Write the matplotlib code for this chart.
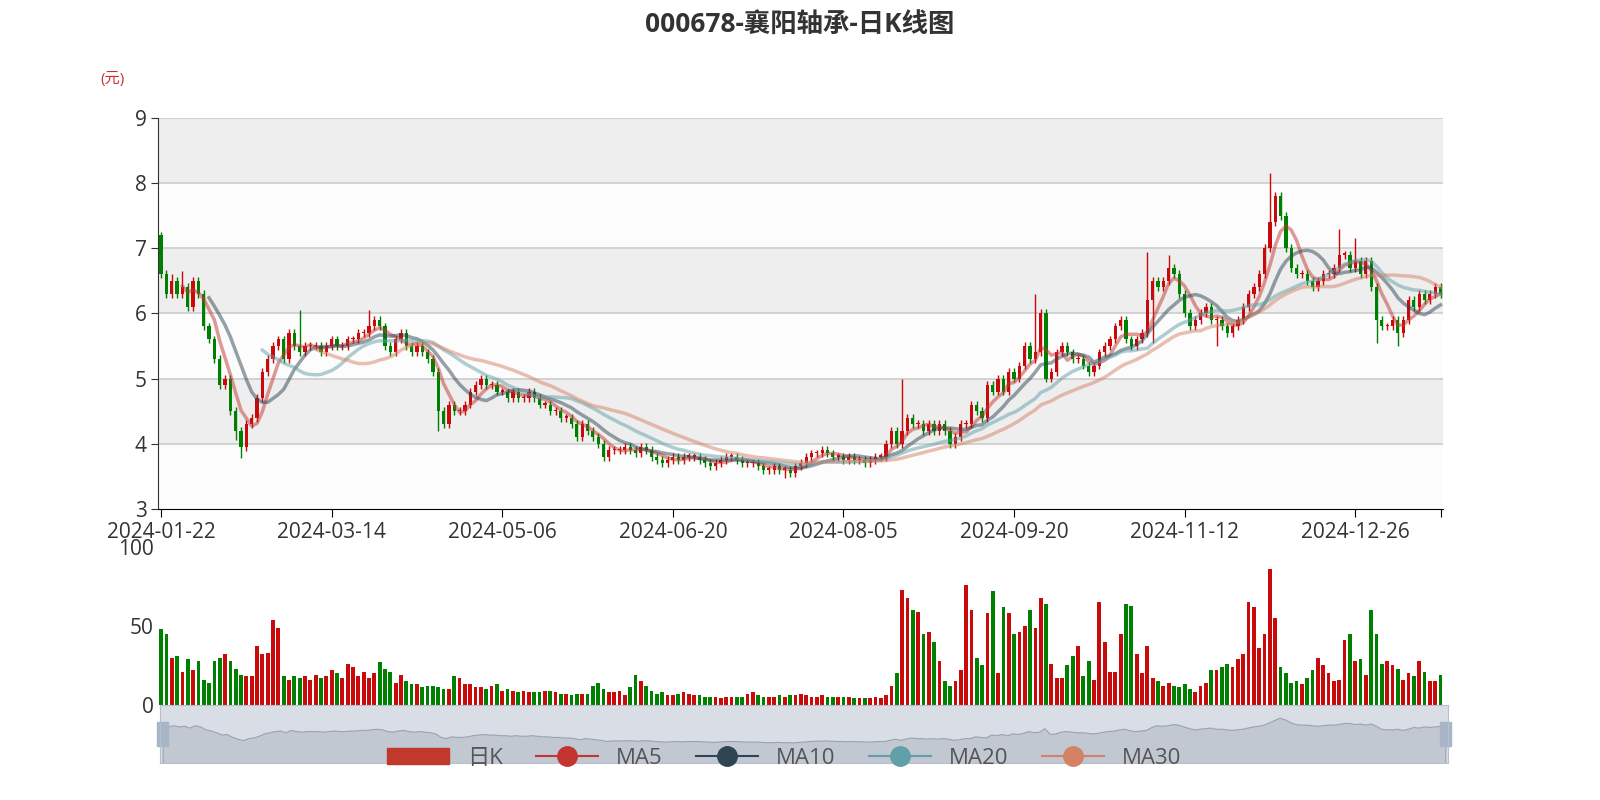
import matplotlib

matplotlib.use("Agg")

import matplotlib.pyplot as plt
import numpy as np
import pandas as pd
from matplotlib.lines import Line2D
from matplotlib.patches import Patch

plt.rcParams["font.family"] = ["Open Sans", "Noto Sans CJK SC", "DejaVu Sans"]

closes = [
    6.6, 6.3, 6.5, 6.3, 6.4, 6.1, 6.5, 6.3, 5.8, 5.6, 5.3,
    4.9, 5.0, 4.5, 4.2, 3.95, 4.3, 4.4, 4.7, 5.1, 5.3,
    5.5, 5.6, 5.3, 5.7, 5.5, 5.4, 5.5, 5.5, 5.5, 5.4,
    5.5, 5.6, 5.5, 5.5, 5.6, 5.6, 5.7, 5.7, 5.8, 5.9,
    5.8, 5.5, 5.4, 5.6, 5.7, 5.5, 5.4, 5.5, 5.4, 5.3,
    5.1, 4.5, 4.3, 4.6, 4.5, 4.5, 4.6, 4.8, 4.9, 5.0,
    4.9, 4.9, 4.8, 4.8, 4.7, 4.8, 4.7, 4.7, 4.8, 4.7,
    4.6, 4.6, 4.5, 4.5, 4.4, 4.4, 4.3, 4.1, 4.3, 4.2,
    4.1, 4.0, 3.8, 3.9, 3.9, 3.9, 3.95, 3.9, 3.85, 3.95,
    3.9, 3.8, 3.75, 3.7, 3.75, 3.8, 3.75, 3.8, 3.8, 3.8,
    3.75, 3.7, 3.65, 3.7, 3.75, 3.8, 3.8, 3.75, 3.7, 3.7,
    3.7, 3.65, 3.6, 3.6, 3.65, 3.6, 3.6, 3.55, 3.65, 3.7,
    3.8, 3.85, 3.85, 3.9, 3.85, 3.8, 3.8, 3.75, 3.8, 3.75,
    3.75, 3.7, 3.75, 3.8, 3.8, 4.0, 4.2, 4.0, 4.2, 4.4,
    4.3, 4.3, 4.2, 4.3, 4.2, 4.3, 4.2, 4.0, 4.1, 4.3,
    4.3, 4.6, 4.5, 4.4, 4.9, 4.8, 5.0, 4.8, 5.1, 5.0,
    5.2, 5.5, 5.3, 5.4, 6.0, 5.0, 5.1, 5.4, 5.5, 5.4,
    5.3, 5.3, 5.2, 5.1, 5.2, 5.4, 5.5, 5.6, 5.8, 5.9,
    5.6, 5.5, 5.6, 5.7, 6.2, 6.5, 6.4, 6.5, 6.7, 6.6,
    6.3, 6.0, 5.8, 5.9, 6.0, 6.1, 5.9, 5.9, 5.8, 5.7,
    5.8, 5.9, 6.1, 6.3, 6.4, 6.6, 7.0, 7.4, 7.8, 7.5,
    7.0, 6.7, 6.6, 6.6, 6.5, 6.4, 6.5, 6.6, 6.6, 6.7,
    6.9, 6.9, 6.7, 6.8, 6.6, 6.8, 6.4, 5.9, 5.8, 5.8,
    5.9, 5.7, 5.9, 6.2, 6.1, 6.3, 6.2, 6.3, 6.4, 6.3,
]
opens = [
    7.2, 6.6, 6.3, 6.5, 6.3, 6.4, 6.1, 6.5, 6.3, 5.8, 5.6,
    5.3, 4.9, 5.0, 4.5, 4.2, 3.95, 4.3, 4.4, 4.7, 5.1,
    5.3, 5.5, 5.6, 5.3, 5.7, 5.5, 5.4, 5.5, 5.5, 5.5,
    5.4, 5.5, 5.6, 5.5, 5.5, 5.6, 5.6, 5.7, 5.7, 5.8,
    5.9, 5.8, 5.5, 5.4, 5.6, 5.7, 5.5, 5.4, 5.5, 5.4,
    5.3, 5.1, 4.5, 4.3, 4.6, 4.5, 4.5, 4.6, 4.8, 4.9,
    5.0, 4.9, 4.9, 4.8, 4.8, 4.7, 4.8, 4.7, 4.7, 4.8,
    4.7, 4.6, 4.6, 4.5, 4.5, 4.4, 4.4, 4.3, 4.1, 4.3,
    4.2, 4.1, 4.0, 3.8, 3.9, 3.9, 3.9, 3.95, 3.9, 3.85,
    3.95, 3.9, 3.8, 3.75, 3.7, 3.75, 3.8, 3.75, 3.8, 3.8,
    3.8, 3.75, 3.7, 3.65, 3.7, 3.75, 3.8, 3.8, 3.75, 3.7,
    3.7, 3.7, 3.65, 3.6, 3.6, 3.65, 3.6, 3.6, 3.55, 3.65,
    3.7, 3.8, 3.85, 3.85, 3.9, 3.85, 3.8, 3.8, 3.75, 3.8,
    3.75, 3.75, 3.7, 3.75, 3.8, 3.8, 4.0, 4.2, 4.0, 4.2,
    4.4, 4.3, 4.3, 4.2, 4.3, 4.2, 4.3, 4.2, 4.0, 4.1,
    4.3, 4.3, 4.6, 4.5, 4.4, 4.9, 4.8, 5.0, 4.8, 5.1,
    5.0, 5.2, 5.5, 5.3, 5.4, 6.0, 5.0, 5.1, 5.4, 5.5,
    5.4, 5.3, 5.3, 5.2, 5.1, 5.2, 5.4, 5.5, 5.6, 5.8,
    5.9, 5.6, 5.5, 5.6, 5.7, 6.2, 6.5, 6.4, 6.5, 6.7,
    6.6, 6.3, 6.0, 5.8, 5.9, 6.0, 6.1, 5.9, 5.9, 5.8,
    5.7, 5.8, 5.9, 6.1, 6.3, 6.4, 6.6, 7.0, 7.4, 7.8,
    7.5, 7.0, 6.7, 6.6, 6.6, 6.5, 6.4, 6.5, 6.6, 6.6,
    6.7, 6.9, 6.9, 6.7, 6.8, 6.6, 6.8, 6.4, 5.9, 5.8,
    5.8, 5.9, 5.7, 5.9, 6.2, 6.1, 6.3, 6.2, 6.3, 6.4,
]
volumes = [
    48, 45, 30, 31, 21, 29, 22, 28, 16, 14, 28,
    30, 32, 28, 23, 19, 18, 18, 37, 32, 33,
    54, 49, 18, 16, 18, 17, 18, 16, 19, 17,
    18, 22, 20, 17, 26, 24, 18, 21, 17, 20,
    27, 23, 21, 14, 19, 15, 13, 13, 11, 12,
    12, 11, 10, 10, 18, 17, 13, 13, 11, 11,
    10, 12, 13, 9, 10, 9, 8, 9, 8, 8,
    8, 9, 9, 8, 7, 7, 6, 7, 7, 7,
    12, 14, 10, 8, 8, 9, 6, 11, 19, 15,
    12, 9, 7, 8, 6, 6, 7, 8, 7, 6,
    6, 5, 5, 5, 4, 5, 5, 5, 5, 7,
    8, 6, 5, 5, 5, 6, 5, 6, 6, 7,
    6, 5, 5, 6, 5, 5, 5, 5, 5, 4,
    4, 4, 4, 5, 4, 6, 12, 20, 73, 68,
    60, 59, 45, 46, 40, 28, 15, 12, 15, 22,
    76, 60, 30, 25, 58, 72, 20, 62, 58, 45,
    46, 50, 60, 49, 68, 64, 26, 17, 17, 25,
    31, 37, 18, 28, 16, 65, 40, 21, 21, 45,
    64, 63, 32, 20, 37, 17, 15, 12, 14, 12,
    11, 13, 10, 8, 12, 14, 22, 22, 24, 26,
    24, 29, 32, 65, 62, 36, 45, 86, 55, 24,
    20, 14, 15, 13, 17, 22, 30, 25, 20, 15,
    16, 41, 45, 28, 29, 19, 60, 45, 26, 28,
    25, 23, 16, 20, 18, 28, 21, 15, 15, 19,
]
# notable shadows (index: price); other days get a short default wick
spike_highs = {0: 7.25, 2: 6.6, 4: 6.65, 26: 6.05, 39: 6.05, 139: 5.0, 164: 6.3,
               185: 6.95, 189: 6.9, 208: 8.15, 221: 7.3, 224: 7.15}
spike_lows = {15: 3.78, 14: 4.05, 52: 4.2, 117: 3.47, 186: 5.55, 198: 5.5, 228: 5.55, 232: 5.5}
tick_labels = ["2024-01-22", "2024-03-14", "2024-05-06", "2024-06-20",
               "2024-08-05", "2024-09-20", "2024-11-12", "2024-12-26"]
ma_windows = [5, 10, 20, 30]
ma_colors = ["#c23531", "#2f4554", "#61a0a8", "#d48265"]

RED = "#c80a0a"
GREEN = "#008000"
n = len(closes)
x = np.arange(n)
o = np.array(opens)
c = np.array(closes)
colors = [RED if cc >= oo else GREEN for oo, cc in zip(o, c)]

fig = plt.figure(figsize=(16, 8), dpi=100)
ax = fig.add_axes([0.099, 0.364, 0.803, 0.4885])
axv = fig.add_axes([0.099, 0.119, 0.803, 0.197], sharex=ax)
axs = fig.add_axes([0.100, 0.046, 0.805, 0.073])

# background bands
for k, lo in enumerate(range(8, 2, -1)):
    ax.axhspan(lo, lo + 1, color="#eeeeee" if k % 2 == 0 else "#fcfcfc", zorder=0)
for yy in range(4, 10):
    ax.axhline(yy, color="#cccccc", lw=1.2, zorder=1)

for i in range(n):
    top, bot = max(o[i], c[i]), min(o[i], c[i])
    hi = spike_highs.get(i, top + 0.06)
    lo = spike_lows.get(i, bot - 0.06)
    ax.vlines(x[i], lo, hi, color=colors[i], lw=1, zorder=3)
    ax.bar(x[i], max(top - bot, 0.02), bottom=bot, width=0.6, color=colors[i], zorder=3)

s = pd.Series(closes)
for w, col in zip(ma_windows, ma_colors):
    ax.plot(x, s.rolling(w).mean(), color=col, lw=2.5, alpha=0.5, zorder=4)

ax.set_xlim(-0.5, n - 0.5)
ax.set_ylim(3, 9)
ax.set_yticks(range(3, 10))
for sp in ["top", "right"]:
    ax.spines[sp].set_visible(False)
ax.spines["left"].set_color("#333333")
ax.tick_params(axis="y", labelsize=15, colors="#333333", length=5)
ticks = [i * 32 for i in range(len(tick_labels))]
ax.set_xticks(ticks + [n - 1])
ax.set_xticklabels(tick_labels + [""], fontsize=15, color="#333333")
ax.tick_params(axis="x", length=6)
ax.text(-0.045, 1.09, "(元)", transform=ax.transAxes, color="#d03030", fontsize=11)

axv.bar(x, volumes, width=0.7, color=colors)
axv.set_ylim(0, 100)
axv.set_yticks([0, 50, 100])
axv.tick_params(axis="y", labelsize=15, colors="#333333", length=0)
axv.tick_params(axis="x", bottom=False, labelbottom=False)
for sp in ["top", "right", "left", "bottom"]:
    axv.spines[sp].set_visible(False)

# data zoom slider
axs.set_facecolor("#d8dde6")
axs.fill_between(x, c, 0, color="#c2c8d2", lw=0.8, edgecolor="#9aa3b0")
axs.set_xlim(-0.5, n - 0.5)
axs.set_ylim(0, 10)
axs.set_xticks([])
axs.set_yticks([])
for sp in axs.spines.values():
    sp.set_color("#b8c0cc")
for hx in [0.002, 0.998]:
    axs.add_patch(plt.Rectangle((hx - 0.004, 0.3), 0.008, 0.4, transform=axs.transAxes,
                                color="#a8b4c8", clip_on=False))

handles = [Patch(color="#c0392b", label="日K")] + [
    Line2D([0], [0], color=col, marker="o", ms=14, lw=1.5, label=f"MA{w}")
    for w, col in zip(ma_windows, ma_colors)
]
fig.legend(handles=handles, loc="center", bbox_to_anchor=(0.49, 0.052), ncol=5,
           frameon=False, fontsize=16, handlelength=2.8, columnspacing=1.5,
           labelcolor="#555555")

fig.suptitle("000678-襄阳轴承-日K线图", y=0.985, fontsize=19, fontweight="bold", color="#333333")
fig.savefig("out.png", dpi=100)
